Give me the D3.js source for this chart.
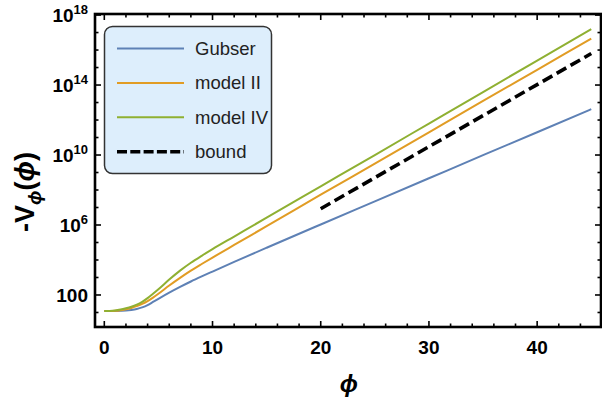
<!DOCTYPE html>
<html><head><meta charset="utf-8">
<script src="https://cdn.jsdelivr.net/npm/d3@7"></script>
<style>body{margin:0;background:#fff}svg{display:block}</style>
</head><body>
<svg id="c" width="602" height="401"></svg>
<script>
// phi sample points and log10(-V) values
const phiGrid = [0,0.5,1,1.5,2,2.5,3,3.5,4,4.5,5,6,7,8,9,10,12,15,20,25,30,35,40,45];
const gubser  = [1.079,1.080,1.085,1.095,1.110,1.145,1.200,1.290,1.420,1.600,1.780,2.130,2.460,2.770,3.060,3.340,3.890,4.700,6.030,7.350,8.670,9.990,11.300,12.620];
const model2  = [1.079,1.082,1.095,1.130,1.180,1.260,1.360,1.490,1.650,1.850,2.070,2.540,2.980,3.390,3.770,4.140,4.860,5.930,7.730,9.510,11.300,13.090,14.870,16.650];
const model4  = [1.079,1.085,1.110,1.165,1.240,1.330,1.450,1.610,1.820,2.070,2.330,2.880,3.390,3.840,4.240,4.620,5.340,6.420,8.210,10.000,11.800,13.600,15.400,17.200];
const boundPhi = [20,45];
const boundVal = [6.93,15.80];
const seriesNames = ["Gubser","model II","model IV","bound"];
const xTickVals = [0,10,20,30,40];
const yTickExps = [2,6,10,14,18];

const W=602,H=401, L=95,R=601,T=14,B=327;
const svg=d3.select("#c");
const x=d3.scaleLinear().domain([-0.86,45.9]).range([L,R]);
const y=d3.scaleLog().domain([Math.pow(10,0.17),Math.pow(10,18.06)]).range([B,T]);

const font="'Liberation Sans', Arial, sans-serif";
const colors=["#5E81B5","#E19C24","#8FB032","#000"];

svg.append("clipPath").attr("id","clp").append("rect").attr("x",L).attr("y",T).attr("width",R-L).attr("height",B-T);

const line=d3.line().x(d=>x(d[0])).y(d=>y(Math.pow(10,d[1]))).curve(d3.curveMonotoneX);
const g=svg.append("g").attr("clip-path","url(#clp)");
[gubser,model2,model4].forEach((s,i)=>{
  g.append("path").datum(phiGrid.map((p,j)=>[p,s[j]])).attr("d",line)
   .attr("fill","none").attr("stroke",colors[i]).attr("stroke-width",2);
});
g.append("path").datum(boundPhi.map((p,j)=>[p,boundVal[j]])).attr("d",d3.line().x(d=>x(d[0])).y(d=>y(Math.pow(10,d[1]))))
 .attr("fill","none").attr("stroke","#000").attr("stroke-width",3.6).attr("stroke-dasharray","11,5");

// ticks
const xMinor=d3.range(0,46,2).filter(v=>v%10!==0);
const yMinorExps=d3.range(1,19).filter(e=>!yTickExps.includes(e));
const tk=svg.append("g").attr("stroke","#000");
function hTick(v,len,top){
  const px=x(v);
  if(top) tk.append("line").attr("x1",px).attr("x2",px).attr("y1",T).attr("y2",T+len).attr("stroke-width",1.6);
  else tk.append("line").attr("x1",px).attr("x2",px).attr("y1",B).attr("y2",B-len).attr("stroke-width",1.6);
}
function vTick(v,len,right){
  const py=y(Math.pow(10,v));
  if(right) tk.append("line").attr("x1",R).attr("x2",R-len).attr("y1",py).attr("y2",py).attr("stroke-width",1.6);
  else tk.append("line").attr("x1",L).attr("x2",L+len).attr("y1",py).attr("y2",py).attr("stroke-width",1.6);
}
xTickVals.forEach(v=>{hTick(v,6,false);hTick(v,6,true);});
xMinor.forEach(v=>{hTick(v,3.5,false);hTick(v,3.5,true);});
yTickExps.forEach(e=>{vTick(e,6,false);vTick(e,6,true);});
yMinorExps.forEach(e=>{vTick(e,3.5,false);vTick(e,3.5,true);});

// frame
svg.append("rect").attr("x",L).attr("y",T).attr("width",R-L).attr("height",B-T)
  .attr("fill","none").attr("stroke","#000").attr("stroke-width",2.6);

// x tick labels
svg.append("g").selectAll("text").data(xTickVals).join("text")
  .attr("x",d=>x(d)).attr("y",354).attr("text-anchor","middle")
  .attr("font-family",font).attr("font-weight","bold").attr("font-size",19).text(d=>d);

// y tick labels
yTickExps.forEach(e=>{
  const py=y(Math.pow(10,e));
  const t=svg.append("text").attr("x",88).attr("y",py+7).attr("text-anchor","end")
    .attr("font-family",font).attr("font-weight","bold").attr("font-size",19);
  if(e===2){t.text("100");}
  else{
    t.append("tspan").text("10");
    t.append("tspan").attr("font-size",13).attr("dy",-8).text(e);
  }
});

// axis labels
svg.append("text").attr("x",x(20)+28).attr("y",392).attr("text-anchor","middle")
  .attr("font-family",font).attr("font-weight","bold").attr("font-style","italic").attr("font-size",24).text("\u03D5");
const yl=svg.append("text").attr("transform","translate(34,192) rotate(-90)").attr("text-anchor","middle")
  .attr("font-family",font).attr("font-weight","bold").attr("font-size",27);
yl.append("tspan").text("-V");
yl.append("tspan").attr("font-size",19).attr("dy",7).attr("font-style","italic").text("\u03D5");
yl.append("tspan").attr("dy",-7).text("(");
yl.append("tspan").attr("font-style","italic").text("\u03D5");
yl.append("tspan").text(")");

// legend
const lg=svg.append("g");
lg.append("rect").attr("x",104.5).attr("y",26.5).attr("width",167).attr("height",147).attr("rx",8)
  .attr("fill","#DDEEFC").attr("stroke","#333").attr("stroke-width",1.5);
seriesNames.forEach((n,i)=>{
  const yy=48.5+i*34.4;
  lg.append("line").attr("x1",117).attr("x2",184).attr("y1",yy).attr("y2",yy)
    .attr("stroke",colors[i]).attr("stroke-width",i===3?3.5:2).attr("stroke-dasharray",i===3?"10,3.3":null);
  lg.append("text").attr("x",195).attr("y",yy+6.5).attr("font-family",font).attr("font-size",18.5)
    .attr("fill","#222").text(n);
});
</script>
</body></html>
